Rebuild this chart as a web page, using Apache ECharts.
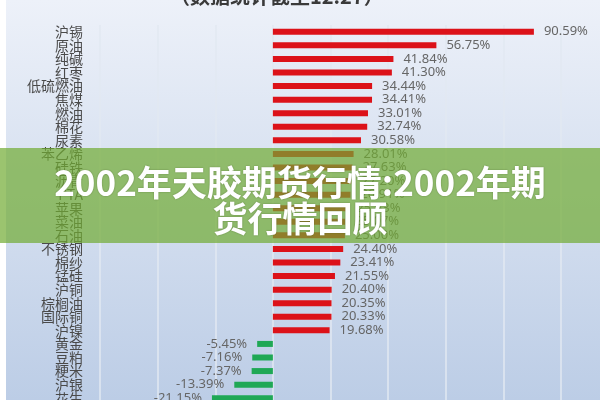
<!DOCTYPE html>
<html>
<head>
<meta charset="utf-8">
<script src="https://cdn.jsdelivr.net/npm/echarts@6/dist/echarts.min.js"></script>
<style>
  html, body { margin: 0; padding: 0; background: #fff; }
  #main { width: 600px; height: 400px; }
</style>
</head>
<body>
<div id="main"></div>
<script>
// 品种
var categories = ['沪锡', '原油', '纯碱', '红枣', '低硫燃油', '焦煤', '燃油', '棉花', '尿素',
  '苯乙烯', '硅铁', '沥青', 'PTA', '苹果', '菜油', '石油', '不锈钢',
  '棉纱', '锰硅', '沪铜', '棕榈油', '国际铜', '沪镍', '黄金', '豆粕', '粳米', '沪银', '花生']
// 涨跌幅 (%)
var changes = [90.59, 56.75, 41.84, 41.30, 34.44, 34.41, 33.01, 32.74, 30.58,
  28.01, 27.63, 27.20, 26.91, 25.53, 25.07, 25.00, 24.40,
  23.41, 21.55, 20.40, 20.35, 20.33, 19.68, -5.45, -7.16, -7.37, -13.39, -21.15]
var xTicks = [-60, -40, -20, 0, 20, 40, 60, 80, 100]

var subTitle = '（数据统计截至12.27）'
var bannerLines = ['2002年天胶期货行情:2002年期', '货行情回顾']

var main = document.getElementById('main')
var myChart = echarts.init(main, null, { renderer: 'canvas' })

var barData = changes.map(function (v) {
  return {
    value: v,
    itemStyle: { color: v >= 0 ? '#dc1219' : '#1fa855' },
    label: { position: v >= 0 ? 'right' : 'left' }
  }
})

var bannerStyle = {
  fontSize: 35, fontWeight: 'bold', fill: '#ffffff',
  align: 'center', verticalAlign: 'middle', fontFamily: 'Noto Sans CJK SC',
  textShadowColor: 'rgba(60,80,30,0.5)', textShadowBlur: 2
}

myChart.setOption({
  backgroundColor: '#ffffff',
  animation: false,
  graphic: [
    {
      type: 'rect', z: -10, silent: true,
      shape: { x: 6, y: 0, width: 594, height: 400 },
      style: {
        fill: new echarts.graphic.LinearGradient(0, 0, 0, 1, [
          { offset: 0, color: '#edf1f9' },
          { offset: 1, color: '#bccde6' }
        ])
      }
    },
    {
      type: 'text', left: 170, top: -14, z: 5,
      style: { text: subTitle, fontSize: 20, fontWeight: 'bold', fill: '#3a3a3a',
        fontFamily: 'Noto Sans CJK SC' }
    },
    {
      type: 'rect', z: 50, silent: true,
      shape: { x: 0, y: 148, width: 600, height: 95 },
      style: { fill: 'rgba(112,171,50,0.7)' }
    },
    {
      type: 'text', z: 51, x: 300, y: 183,
      style: Object.assign({ text: bannerLines[0] }, bannerStyle)
    },
    {
      type: 'text', z: 51, x: 300, y: 219,
      style: Object.assign({ text: bannerLines[1] }, bannerStyle)
    }
  ],
  grid: {
    left: 100, right: 39, top: 25, bottom: -5,
    outerBoundsMode: 'none'
  },
  xAxis: {
    type: 'value',
    min: xTicks[0],
    max: xTicks[xTicks.length - 1],
    interval: 20,
    axisLabel: { show: false },
    axisLine: { show: false },
    axisTick: { show: false },
    splitLine: { lineStyle: { color: '#e2e8f2', width: 1.5 } }
  },
  yAxis: {
    type: 'category',
    inverse: true,
    data: categories,
    axisLine: { show: false, onZero: false },
    axisTick: { show: false },
    axisLabel: { interval: 0, color: '#4a4a4a', fontSize: 14, margin: 17,
      fontFamily: 'Noto Sans CJK SC', lineHeight: 14 }
  },
  series: [{
    type: 'bar',
    data: barData,
    barWidth: 6,
    label: {
      show: true,
      distance: 10,
      color: '#666',
      fontSize: 13,
      fontFamily: 'Noto Sans',
      formatter: function (p) { return p.value.toFixed(2) + '%' }
    }
  }]
})
</script>
</body>
</html>
